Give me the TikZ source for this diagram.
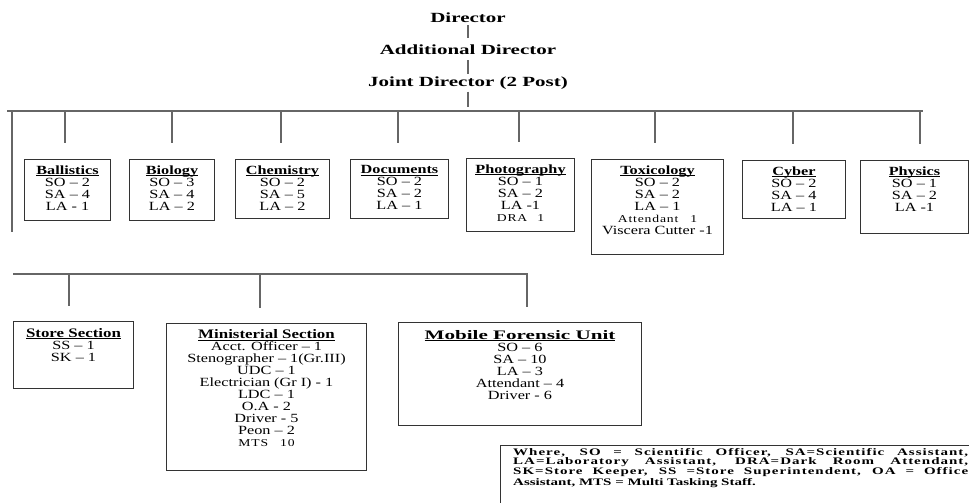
\documentclass[tikz,border=0pt]{standalone}
\usepackage{fontspec}
\setmainfont{Liberation Serif}
\newfontfamily\headfont{Liberation Serif}[FakeStretch=1.5]
\newfontfamily\unitfont{Liberation Serif}[FakeStretch=1.3]
\newfontfamily\keyfont{Liberation Serif}[FakeStretch=1.5]
\usetikzlibrary{positioning}
\newcommand{\utitle}[1]{{\bfseries\setbox0\hbox{#1}\rlap{\rule[-1.7pt]{\wd0}{0.8pt}}\box0}}
\newcommand{\bigtitle}[1]{{\fontsize{13}{12}\selectfont\utitle{#1}}}
\newcommand{\tinyrow}[1]{{\fontsize{10.5}{12}\selectfont\addfontfeature{LetterSpace=8}#1}}
\hbadness=10000
\tolerance=10000

\begin{document}
\begin{tikzpicture}[x=1pt, y=-1pt,
  headtext/.style={font=\headfont\bfseries\fontsize{14}{16}\selectfont, inner sep=2pt},
  link/.style={draw=black!60, line width=1.1pt},
  unitbox/.style={draw=black!80, line width=1pt, inner sep=0pt, anchor=north west},
  stafftext/.style={font=\unitfont\fontsize{12.5}{12}\selectfont, align=center, inner sep=0pt},
  keytext/.style={font=\keyfont\bfseries\fontsize{10}{8.4}\selectfont, text width=455pt, align=justify, inner sep=0pt, anchor=north west}]
\useasboundingbox (0,0) rectangle (969,503);
% heads
\node[headtext] (dir) at (468,18) {Director};
\node[headtext] (add) at (468,50) {Additional Director};
\node[headtext] (joint) at (468,83) {Joint Director (2 Post)};
\draw[link, shorten >=5pt] (dir) -- (add);
\draw[link, shorten <=3pt] (add) -- (joint);
% top bus
\coordinate (busL) at (7,111);
\coordinate (busR) at (923,111);
\draw[link] (busL) -- (busR);
\draw[link, shorten >=4pt] (joint) -- (joint |- busL);
% divisions
\node[unitbox, minimum width=86, minimum height=61] (bal) at (24,159) {};
\node[unitbox, minimum width=85, minimum height=61] (bio) at (129,159) {};
\node[unitbox, minimum width=94, minimum height=59] (chem) at (235,159) {};
\node[unitbox, minimum width=98, minimum height=59] (doc) at (350,159) {};
\node[unitbox, minimum width=108, minimum height=73] (photo) at (466,158) {};
\node[unitbox, minimum width=132, minimum height=95] (tox) at (591,159) {};
\node[unitbox, minimum width=103, minimum height=58] (cyb) at (742,160) {};
\node[unitbox, minimum width=108, minimum height=73] (phy) at (860,160) {};
\node[stafftext, below=6.5pt of bal.north] (balT) {\utitle{Ballistics}\\SO – 2\\SA – 4\\LA - 1};
\node[stafftext, below=6.5pt of bio.north] (bioT) {\utitle{Biology}\\SO – 3\\SA – 4\\LA – 2};
\node[stafftext, below=6.5pt of chem.north] (chemT) {\utitle{Chemistry}\\SO – 2\\SA – 5\\LA – 2};
\node[stafftext, below=6.5pt of doc.north] (docT) {\utitle{Documents}\\SO – 2\\SA – 2\\LA – 1};
\node[stafftext, below=6.5pt of photo.north] (photoT) {\utitle{Photography}\\SO – 1\\SA – 2\\LA -1\\\tinyrow{DRA\hspace{10pt}1}};
\node[stafftext, below=6.5pt of tox.north] (toxT) {\utitle{Toxicology}\\SO – 2\\SA – 2\\LA – 1\\\tinyrow{Attendant\hspace{12pt}1}\\Viscera Cutter -1};
\node[stafftext, below=6.5pt of cyb.north] (cybT) {\utitle{Cyber}\\SO – 2\\SA – 4\\LA – 1};
\node[stafftext, below=6.5pt of phy.north] (phyT) {\utitle{Physics}\\SO – 1\\SA – 2\\LA -1};
\foreach \b/\x in {bal/65,bio/172,chem/281,doc/398,photo/519,tox/655,cyb/793,phy/920}
  \draw[link, shorten >=16pt] (\x,111) -- (\x,111 |- \b.north);
% left trunk and lower bus
\coordinate (trunkTop) at (12,111);
\coordinate (trunkEnd) at (12,232);
\draw[link] (trunkTop) -- (trunkEnd);
\coordinate (lowL) at (13,274);
\coordinate (lowR) at (528,274);
\draw[link] (lowL) -- (lowR);
% sections
\node[unitbox, minimum width=120, minimum height=67] (store) at (13,321) {};
\node[unitbox, minimum width=200, minimum height=147] (mini) at (166,323) {};
\node[unitbox, minimum width=243, minimum height=103] (mfu) at (398,322) {};
\node[stafftext, below=7pt of store.north] (storeT) {\bigtitle{Store Section}\\SS – 1\\SK – 1};
\node[stafftext, below=6.5pt of mini.north] (miniT) {\bigtitle{Ministerial Section}\\Acct. Officer – 1\\Stenographer – 1(Gr.III)\\UDC – 1\\Electrician (Gr I) - 1\\LDC – 1\\O.A - 2\\Driver - 5\\Peon – 2\\\tinyrow{MTS\hspace{12pt}10}};
\node[stafftext, below=8pt of mfu.north] (mfuT) {\bigtitle{\scalebox{1.25}[1]{Mobile Forensic Unit}}\\SO – 6\\SA – 10\\LA – 3\\Attendant – 4\\Driver - 6};
\foreach \b/\x in {store/69,mini/260,mfu/527}
  \draw[link, shorten >=15pt] (\x,274) -- (\x,274 |- \b.north);
% key to abbreviations
\draw[unitbox] (969,445) -| (500,503);
\node[keytext] (key) at (513,448) {{\addfontfeature{LetterSpace=10}Where, SO = Scientific Officer, SA=Scientific Assistant,\linebreak LA=Laboratory Assistant, DRA=Dark Room Attendant,\linebreak SK=Store Keeper, SS =Store Superintendent, OA = Office}\linebreak Assistant, MTS = Multi Tasking Staff.};
\end{tikzpicture}
\end{document}
